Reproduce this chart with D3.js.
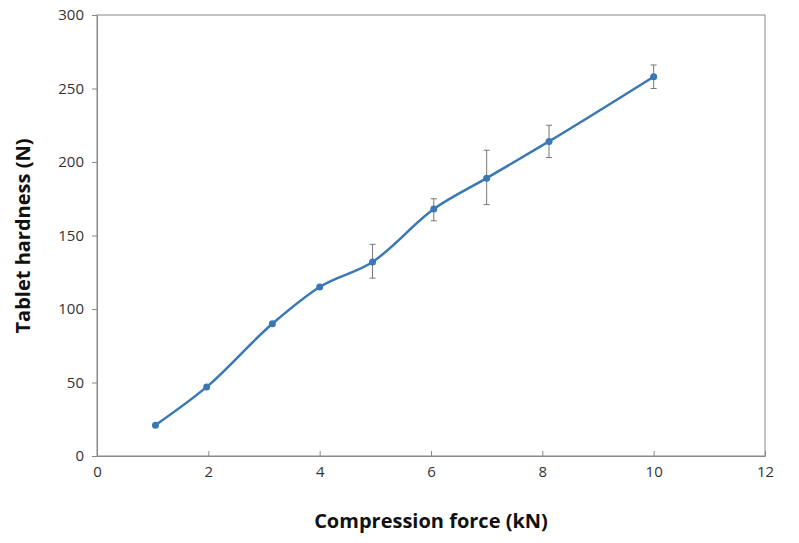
<!DOCTYPE html><html><head><meta charset="utf-8"><script src="https://d3js.org/d3.v7.min.js"></script>
<style>body{margin:0;background:#fff}text{font-family:"Open Sans","Noto Sans",sans-serif}</style></head><body><svg width="799" height="543"></svg>
<script>
const forceKN=[1.05,1.97,3.15,4,4.95,6.05,7,8.12,10];
const hardness=[21,47,90,115,132,168,189,214,258];
const errLow=[20,46,89,114,121,160,171,203,250];
const errHigh=[22,48,91,116,144,175,208,225,266];
const xTicks=[0,2,4,6,8,10,12];
const yTicks=[0,50,100,150,200,250,300];
const svg=d3.select("svg");
const x=d3.scaleLinear().domain([0,12]).range([97,765]);
const y=d3.scaleLinear().domain([0,300]).range([456,15]);
svg.append("rect").attr("x",97).attr("y",15).attr("width",668).attr("height",441).attr("fill","none").attr("stroke","#888");
const xa=svg.append("g").attr("transform","translate(0,456)").call(d3.axisBottom(x).tickValues(xTicks).tickSize(-5).tickSizeOuter(0).tickPadding(10));
const ya=svg.append("g").attr("transform","translate(97,0)").call(d3.axisLeft(y).tickValues(yTicks).tickSize(5).tickSizeOuter(0).tickPadding(8));
[xa,ya].forEach(a=>{a.select(".domain").attr("stroke","#888");a.selectAll("line").attr("stroke","#888");a.selectAll("text").attr("font-size",15).attr("fill","#333").style("font-family","'Open Sans',sans-serif");});
const idx=d3.range(forceKN.length);
svg.append("g").selectAll("g").data(idx).join("g").each(function(i){
 const g=d3.select(this),cx=x(forceKN[i]);
 if(errHigh[i]-errLow[i]<4)return;
 g.append("line").attr("x1",cx).attr("x2",cx).attr("y1",y(errLow[i])).attr("y2",y(errHigh[i])).attr("stroke","#777");
 [errLow[i],errHigh[i]].forEach(v=>g.append("line").attr("x1",cx-3).attr("x2",cx+3).attr("y1",y(v)).attr("y2",y(v)).attr("stroke","#777"));
});
svg.append("path").datum(idx).attr("fill","none").attr("stroke","#3a77b5").attr("stroke-width",2.5)
 .attr("d",d3.line().x(i=>x(forceKN[i])).y(i=>y(hardness[i])).curve(d3.curveMonotoneX));
svg.append("g").selectAll("circle").data(idx).join("circle").attr("cx",i=>x(forceKN[i])).attr("cy",i=>y(hardness[i])).attr("r",3.5).attr("fill","#3a77b5");
svg.append("text").attr("x",431).attr("y",528).attr("text-anchor","middle").attr("font-size",20).attr("font-weight","bold").attr("fill","#111").text("Compression force (kN)");
svg.append("text").attr("transform","translate(30,236) rotate(-90)").attr("text-anchor","middle").attr("font-size",20).attr("font-weight","bold").attr("fill","#111").text("Tablet hardness (N)");
</script></body></html>
